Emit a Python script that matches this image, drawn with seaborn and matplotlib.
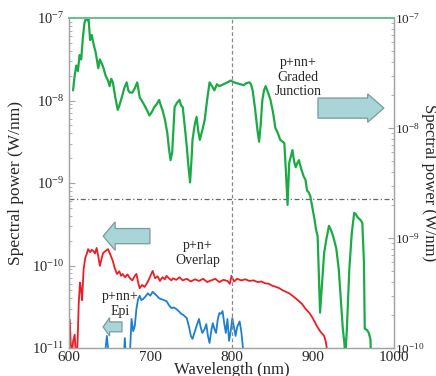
import matplotlib
matplotlib.use("Agg")
import matplotlib.pyplot as plt
import matplotlib.ticker as mticker
from matplotlib.patches import FancyArrow
import seaborn as sns

# green: p+nn+ graded junction (right axis)
green_wl = [605, 607, 609, 611, 613, 615, 617, 619, 621, 623, 624, 626, 628, 630, 633,
            636, 638, 640, 642, 645, 648, 650, 652, 654, 657, 660, 662, 665, 668, 671,
            673, 675, 678, 681, 684, 687, 690, 693, 696, 699, 702, 705, 708, 711, 713,
            715, 718, 721, 723, 725, 727, 730, 733, 736, 738, 740, 743, 745, 747, 749,
            751, 752, 755, 757, 759, 761, 764, 767, 770, 773, 776, 779, 782, 785, 790,
            795, 799, 803, 807, 811, 815, 818, 822, 824, 826, 829, 832, 834, 836, 838,
            840, 842, 845, 848, 851, 854, 857, 860, 863, 865, 867, 869, 871, 873, 875,
            877, 879, 881, 883, 886, 889, 891, 893, 895, 897, 900, 902, 904, 906, 907,
            909, 911, 914, 917, 920, 922, 924, 926, 929, 932, 935, 937, 939, 940, 942,
            945, 948, 951, 953, 955, 957, 959, 961, 963, 964, 967, 969, 971, 972]
green_pw = [2.2e-8, 3.0e-8, 3.7e-8, 3.3e-8, 4.6e-8, 4.2e-8, 6.5e-8, 9.0e-8, 1.0e-7, 9.5e-8,
            1.0e-7, 6.3e-8, 7.0e-8, 5.9e-8, 4.8e-8, 3.5e-8, 4.2e-8, 3.9e-8, 3.6e-8, 3.0e-8,
            2.7e-8, 2.4e-8, 2.8e-8, 2.6e-8, 1.9e-8, 1.46e-8, 1.6e-8, 1.9e-8, 2.3e-8, 2.6e-8,
            2.2e-8, 2.1e-8, 2.1e-8, 2.3e-8, 2.6e-8, 1.9e-8, 1.75e-8, 1.6e-8, 1.45e-8, 1.3e-8,
            1.4e-8, 1.55e-8, 1.65e-8, 1.8e-8, 1.6e-8, 1.46e-8, 1.2e-8, 9.0e-9, 6.5e-9, 5.1e-9,
            6.0e-9, 1.55e-8, 1.7e-8, 1.8e-8, 1.6e-8, 1.55e-8, 9.5e-9, 6.7e-9, 4.5e-9, 3.2e-9,
            5.5e-9, 7.8e-9, 1.1e-8, 1.26e-8, 9.5e-9, 7.8e-9, 9.5e-9, 1.18e-8, 1.8e-8, 2.6e-8,
            2.4e-8, 2.2e-8, 2.5e-8, 2.4e-8, 2.5e-8, 2.6e-8, 2.7e-8, 2.6e-8, 2.55e-8, 2.5e-8,
            2.45e-8, 2.55e-8, 2.6e-8, 2.5e-8, 2.2e-8, 1.5e-8, 9.5e-9, 7.5e-9, 1.1e-8, 1.8e-8,
            2.2e-8, 2.4e-8, 2.1e-8, 1.8e-8, 1.4e-8, 1.0e-8, 9.0e-9, 7.8e-9, 7.5e-9, 7.3e-9,
            4.0e-9, 2.0e-9, 4.8e-9, 5.5e-9, 6.3e-9, 5.0e-9, 4.4e-9, 4.8e-9, 5.1e-9, 4.2e-9,
            3.6e-9, 3.4e-9, 2.7e-9, 2.6e-9, 2.4e-9, 1.8e-9, 1.5e-9, 1.2e-9, 1.04e-9, 6.0e-10,
            2.1e-10, 3.5e-10, 7.3e-10, 1.0e-9, 1.29e-9, 1.2e-9, 1.1e-9, 9.8e-10, 8.0e-10, 5.2e-10,
            2.5e-10, 1.5e-10, 1.1e-10, 8e-11, 1.5e-10, 5.2e-10, 1.1e-9, 1.69e-9, 1.65e-9, 1.55e-9,
            1.5e-9, 1.45e-9, 1.37e-9, 6e-10, 1.5e-10, 1.45e-10, 1.37e-10, 1.2e-10, 7e-11]

# red: p+n+ overlap (left axis)
red_wl = [601, 602, 603.5, 605, 607, 608.5, 610, 612, 613.5, 615, 616, 618, 620, 622, 623.5,
          626, 628, 630, 632, 634, 636, 638, 640, 642, 645, 648, 651, 654, 656, 659,
          662, 664, 666, 669, 672, 675, 678, 681, 683, 685, 687, 690, 693, 696, 699,
          701, 703, 706, 709, 712, 715, 718, 720, 723, 726, 728, 732, 736, 740, 745,
          750, 755, 760, 765, 770, 775, 780, 785, 790, 795, 798, 800, 803, 807, 812,
          817, 822, 827, 832, 837, 841, 846, 850, 855, 859, 863, 867, 871, 875, 879,
          883, 887, 891, 896, 900, 905, 909, 914, 916, 918]
red_pw = [2.2e-11, 1.2e-11, 8e-12, 1.2e-11, 1.45e-11, 8e-12, 8e-12, 3.5e-11, 6.2e-11, 5.0e-11,
          3.8e-11, 9.0e-11, 1.23e-10, 1.4e-10, 1.58e-10, 1.45e-10, 1.55e-10, 1.5e-10, 1.4e-10, 1.63e-10,
          1.3e-10, 9.9e-11, 1.2e-10, 1.42e-10, 1.5e-10, 1.58e-10, 1.35e-10, 1.13e-10, 9.5e-11, 7.9e-11,
          8.5e-11, 7.5e-11, 7.9e-11, 7.2e-11, 7.8e-11, 7.0e-11, 6.6e-11, 7.5e-11, 7.9e-11, 6.3e-11,
          5.3e-11, 5.8e-11, 5.5e-11, 6.1e-11, 7.0e-11, 7.8e-11, 8.6e-11, 7.0e-11, 7.4e-11, 6.5e-11,
          7.2e-11, 6.8e-11, 7.5e-11, 7.0e-11, 6.6e-11, 7.0e-11, 6.7e-11, 7.2e-11, 6.6e-11, 6.9e-11,
          6.4e-11, 6.8e-11, 6.5e-11, 6.9e-11, 6.3e-11, 6.6e-11, 6.9e-11, 6.3e-11, 6.7e-11, 6.5e-11,
          6.0e-11, 7.5e-11, 6.4e-11, 6.9e-11, 6.6e-11, 6.8e-11, 6.5e-11, 6.6e-11, 6.3e-11, 6.4e-11,
          6.1e-11, 6.0e-11, 5.7e-11, 5.5e-11, 5.3e-11, 5.0e-11, 4.8e-11, 4.6e-11, 4.3e-11, 4.0e-11,
          3.7e-11, 3.4e-11, 3.0e-11, 2.65e-11, 2.3e-11, 1.85e-11, 1.6e-11, 1.4e-11, 1.2e-11, 9e-12]

# blue: p+nn+ epi (left axis)
blue_wl = [644, 646.6, 649, 667.5, 668.7, 670, 674.8, 677, 679, 681, 683, 685, 687, 689, 691,
           694, 697, 700, 703, 706, 708, 711, 714, 717, 720, 723, 726, 729, 732, 735,
           738, 741, 745, 748, 750, 752, 755, 757, 760, 762, 764, 767, 769, 771, 773,
           775, 777, 779, 781, 783, 785, 787, 789, 791, 793, 795, 797, 799, 801, 803,
           805, 807, 810, 812, 813.5, 815]
blue_pw = [8e-12, 1.4e-11, 8e-12, 8e-12, 1.32e-11, 8e-12, 8e-12, 2.25e-11, 1.6e-11, 1.85e-11,
           3.0e-11, 3.9e-11, 4.3e-11, 3.8e-11, 3.9e-11, 4.2e-11, 4.6e-11, 4.3e-11, 4.8e-11, 4.5e-11,
           4.3e-11, 4.0e-11, 3.9e-11, 3.8e-11, 3.7e-11, 3.3e-11, 3.05e-11, 3.1e-11, 2.97e-11, 2.8e-11,
           2.6e-11, 2.5e-11, 2.3e-11, 1.75e-11, 1.4e-11, 1.29e-11, 1.6e-11, 1.85e-11, 2.25e-11, 1.8e-11,
           1.52e-11, 1.7e-11, 1.95e-11, 1.4e-11, 1.15e-11, 1.6e-11, 2.0e-11, 1.7e-11, 1.52e-11, 2.2e-11,
           2.65e-11, 2.6e-11, 2.8e-11, 2.0e-11, 1.52e-11, 2.25e-11, 1.22e-11, 1.6e-11, 2.3e-11, 1.8e-11,
           1.4e-11, 1.8e-11, 2.1e-11, 1.6e-11, 1.15e-11, 8e-12]

x_ticks = [600, 700, 800, 900, 1000]
divider_level = 6.4e-10
y_label = "Spectral power (W/nm)"

sns.set_style("white")
plt.rcParams["font.family"] = ["Liberation Serif", "DejaVu Serif"]
plt.rcParams["mathtext.fontset"] = "stix"

GREEN = "#1aab45"
RED = "#ee1c24"
BLUE = "#1f7fcf"
SPINE = "#a0a4a4"

fig = plt.figure(figsize=(4.36, 3.76), dpi=100)
ax = fig.add_axes([69 / 436, 28 / 376, 325 / 436, 330 / 376])
ax2 = ax.twinx()

sns.lineplot(x=red_wl, y=red_pw, ax=ax, color=RED, lw=1.3, estimator=None, sort=False)
sns.lineplot(x=blue_wl, y=blue_pw, ax=ax, color=BLUE, lw=1.3, estimator=None, sort=False)
sns.lineplot(x=green_wl, y=green_pw, ax=ax2, color=GREEN, lw=1.6, estimator=None, sort=False)

ax.set_yscale("log")
ax2.set_yscale("log")
ax.set_xlim(600, 1000)
ax.set_ylim(1e-11, 1e-7)
ax2.set_ylim(1e-10, 1e-7)
ax.set_xticks(x_ticks)
ax.xaxis.set_minor_locator(mticker.MultipleLocator(20))

for a in (ax, ax2):
    a.yaxis.set_major_locator(mticker.LogLocator(base=10))
    a.yaxis.set_minor_locator(mticker.LogLocator(base=10, subs=range(2, 10)))
    a.yaxis.set_minor_formatter(mticker.NullFormatter())
    a.tick_params(which="both", direction="in", color=SPINE, labelsize=10.5)
    a.tick_params(which="major", length=4, width=0.8)
    a.tick_params(which="minor", length=2.5, width=0.6)
    for s in a.spines.values():
        s.set_color(SPINE)
        s.set_linewidth(0.9)
    a.spines["top"].set_color("#66c48a")
    a.spines["top"].set_linewidth(1.4)
ax.tick_params(axis="x", pad=2, labelsize=11)
ax2.tick_params(axis="y", pad=1, labelsize=9.5)

ax.axvline(800, color="#888888", lw=0.9, ls=(0, (3, 2)))
ax.axhline(divider_level, color="#666666", lw=0.9, ls=(0, (4, 2, 1, 2)))

ax.set_xlabel("Wavelength (nm)", fontsize=12, labelpad=-1)
ax.set_ylabel(y_label, fontsize=12.5, va="center", ha="center")
ax.yaxis.set_label_coords(-0.163, 0.5)
ax2.set_ylabel(y_label, fontsize=12, rotation=270, va="center", ha="center")
ax2.yaxis.set_label_coords(1.108, 0.5)

arrow_kw = dict(transform=ax.transAxes, facecolor="#a9d4d8", edgecolor="#7a9a9c",
                lw=0.9, length_includes_head=True, zorder=5)
ax.add_patch(FancyArrow(0.766, 0.727, 0.203, 0, width=0.061, head_width=0.086,
                        head_length=0.05, **arrow_kw))
ax.add_patch(FancyArrow(0.249, 0.339, -0.144, 0, width=0.046, head_width=0.086,
                        head_length=0.037, **arrow_kw))
ax.add_patch(FancyArrow(0.163, 0.064, -0.058, 0, width=0.03, head_width=0.056,
                        head_length=0.02, **arrow_kw))

text_kw = dict(transform=ax.transAxes, ha="center", va="center", fontsize=10,
               linespacing=1.15, zorder=6)
ax.text(0.705, 0.821, "p+nn+\nGraded\nJunction", **text_kw)
ax.text(0.397, 0.288, "p+n+\nOverlap", **text_kw)
ax.text(0.157, 0.133, "p+nn+\nEpi", **text_kw)

fig.savefig("out.png", dpi=100)
